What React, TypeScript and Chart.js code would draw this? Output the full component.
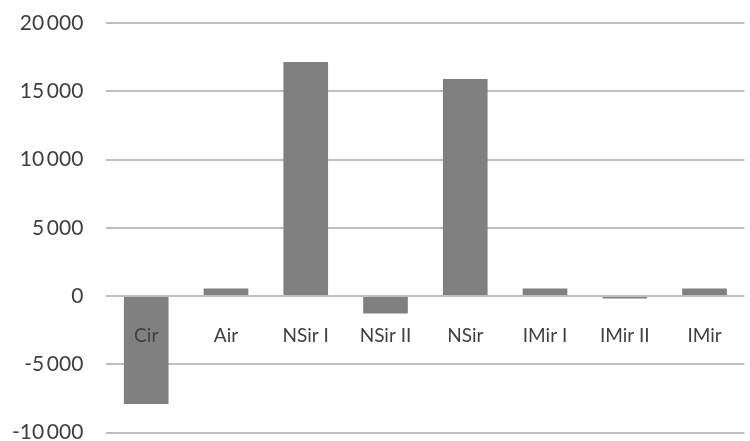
import React, { useEffect, useRef } from "react";
import { Chart, registerables } from "chart.js";

Chart.register(...registerables);

const categories = ["Cir", "Air", "NSir I", "NSir II", "NSir", "IMir I", "IMir II", "IMir"];
const values = [-7900, 550, 17150, -1270, 15900, 550, -170, 550];
const yMin = -10000;
const yMax = 20000;
const yStep = 5000;

function fmt(v: number): string {
  const s = Math.abs(v).toString();
  const withSep = s.length > 3 ? s.slice(0, s.length - 3) + "\u2009" + s.slice(s.length - 3) : s;
  return (v < 0 ? "-" : "") + withSep;
}

export default function App() {
  const ref = useRef<HTMLCanvasElement | null>(null);
  useEffect(() => {
    document.body.style.margin = "0";
    const chart = new Chart(ref.current as HTMLCanvasElement, {
      type: "bar",
      data: {
        labels: categories,
        datasets: [
          {
            data: values,
            backgroundColor: "#808080",
            borderWidth: 0,
            categoryPercentage: 1,
            barPercentage: 0.56,
          },
        ],
      },
      options: {
        animation: false,
        responsive: false,
        maintainAspectRatio: false,
        layout: { padding: { top: 23, right: 5, bottom: 8, left: 12 } },
        plugins: { legend: { display: false }, tooltip: { enabled: false } },
        scales: {
          x: {
            position: { y: 0 } as any,
            afterFit: (scale: any) => {
              scale.height = 0;
            },
            grid: { display: false, drawTicks: false },
            border: { display: false },
            ticks: {
              z: 1,
              padding: 28,
              color: "#404040",
              font: { family: "Lato", size: 19 },
              maxRotation: 0,
              autoSkip: false,
            },
          },
          y: {
            min: yMin,
            max: yMax,
            grid: {
              color: "#bfbfbf",
              lineWidth: 2,
              drawTicks: true,
              tickLength: 23,
              tickColor: "rgba(0,0,0,0)",
            },
            border: { display: false },
            ticks: {
              stepSize: yStep,
              padding: 0,
              color: "#404040",
              font: { family: "Lato", size: 21, lineHeight: 0.8 },
              callback: (v: any) => fmt(Number(v)),
            },
          },
        },
      },
    });
    return () => chart.destroy();
  }, []);
  return (
    <div style={{ width: 750, height: 441 }}>
      <canvas ref={ref} width={750} height={441} style={{ display: "block" }} />
    </div>
  );
}
